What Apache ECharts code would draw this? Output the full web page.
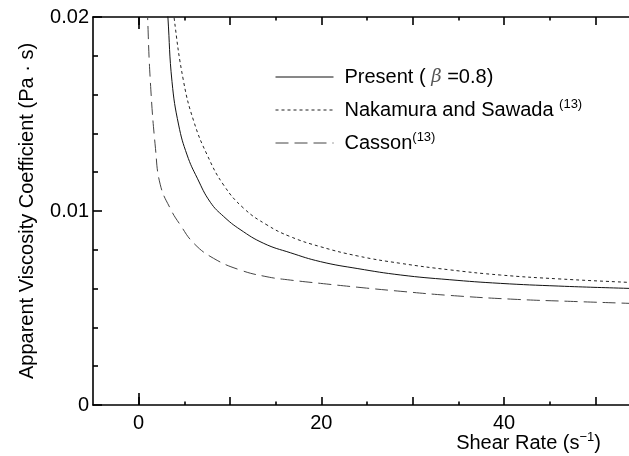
<!DOCTYPE html>
<html>
<head>
<meta charset="utf-8">
<script src="https://cdn.jsdelivr.net/npm/echarts@6/dist/echarts.min.js"></script>
<style>html,body{margin:0;padding:0;background:#fff}#c{width:629px;height:456px}</style>
</head>
<body>
<div id="c"></div>
<script>
// Shear rate (s^-1) and apparent viscosity (Pa·s)
var presentX = [3.0, 3.2, 3.65, 4.38, 5.3, 6.42, 7.85, 9.3, 11.1, 13.7, 16.6, 19.9, 24, 28.7, 34, 39.6, 46, 53.7, 56];
var presentY = [0.0215, 0.0200, 0.01667, 0.01443, 0.01289, 0.01169, 0.01045, 0.00972, 0.00905, 0.00833, 0.00785, 0.00739, 0.00703, 0.0067, 0.00646, 0.00627, 0.00613, 0.00601, 0.00598];
var nakamuraX = [3.7, 3.87, 4.92, 6.05, 7.5, 9.3, 11.5, 14.05, 16.6, 19.9, 24, 28.7, 34, 39.6, 46, 53.7, 56];
var nakamuraY = [0.0212, 0.0200, 0.01667, 0.0146, 0.01289, 0.01134, 0.01014, 0.00928, 0.00868, 0.00816, 0.00768, 0.0073, 0.00697, 0.0067, 0.0065, 0.00632, 0.00628];
var cassonX = [0.9, 0.98, 1.28, 1.84, 2.37, 3.47, 4.56, 6.05, 8.2, 11.1, 14.05, 16.6, 19.9, 24, 28.7, 34, 41.1, 48, 53.7, 56];
var cassonY = [0.0215, 0.0200, 0.01667, 0.01323, 0.01135, 0.01012, 0.00928, 0.00833, 0.00756, 0.00696, 0.00661, 0.00644, 0.00627, 0.00607, 0.00586, 0.00565, 0.00545, 0.00533, 0.00524, 0.0052];
var xMajorTicks = [0, 10, 20, 30, 40, 50];
var xMinorTicks = [5, 15, 25, 35, 45];
var xLabels = [0, 20, 40];
var legendNames = ['Present', 'Nakamura', 'Casson'];
var xAxisTitle = 'Shear Rate (s{sup|−1})';
var yAxisTitle = 'Apparent Viscosity Coefficient (Pa · s)';

function pairs(xs, ys) { return xs.map(function (x, i) { return [x, ys[i]]; }); }

var chart = echarts.init(document.getElementById('c'), null, {renderer: 'canvas'});
var FONT = 'Liberation Sans, Arial, sans-serif';
var FS = 20;
var axisCommon = {
  type: 'value', min: -5, max: 55, gridIndex: 0,
  splitLine: {show: false}
};
function xAx(pos, ticks, len, showLine, extra) {
  var a = Object.assign({}, axisCommon, {
    position: pos, offset: 0,
    axisLine: {show: showLine, onZero: false, lineStyle: {color: '#000', width: 1.6}},
    axisTick: {show: true, inside: true, length: len, customValues: ticks, lineStyle: {color: '#000', width: 1.6}},
    axisLabel: {show: false}
  });
  return Object.assign(a, extra || {});
}
var option = {
  animation: false,
  backgroundColor: '#fff',
  title: {
    text: xAxisTitle, right: 28, top: 431, padding: 0,
    textStyle: {fontFamily: FONT, fontSize: FS, fontWeight: 'normal', color: '#000', lineHeight: 24,
      rich: {sup: {fontFamily: FONT, fontSize: 13, color: '#000', verticalAlign: 'top', lineHeight: 14, padding: [0, 0, 10, 0]}}}
  },
  grid: {left: 93, top: 17, bottom: 51, right: -12, containLabel: false, outerBoundsMode: 'none'},
  legend: {
    orient: 'vertical', left: 270, top: 60,
    itemWidth: 58, itemHeight: 12, itemGap: 9,
    data: legendNames,
    itemStyle: {color: 'rgba(0,0,0,0)', borderWidth: 0, opacity: 0},
    lineStyle: {width: 1},
    textStyle: {
      fontFamily: FONT, fontSize: FS, color: '#000', lineHeight: 24, padding: [0, 0, 0, 6],
      rich: {
        b: {fontFamily: 'DejaVu Serif, serif', fontStyle: 'italic', fontSize: 18, color: '#555', lineHeight: 24},
        sup: {fontFamily: FONT, fontSize: 13, color: '#000', verticalAlign: 'top', lineHeight: 14, padding: [0, 0, 10, 0]}
      }
    },
    formatter: function (n) {
      if (n === 'Present') return 'Present ( {b|β} =0.8)';
      if (n === 'Nakamura') return 'Nakamura and Sawada {sup|(13)}';
      return 'Casson{sup|(13)}';
    }
  },
  xAxis: [
    xAx('bottom', xMajorTicks, 8, true, {
      axisLabel: {show: true, customValues: xLabels, fontFamily: FONT, fontSize: FS, color: '#000', margin: 8}
    }),
    xAx('bottom', xMinorTicks, 3.5, false),
    xAx('bottom', [0], 12, false),
    xAx('top', xMajorTicks, 8, true),
    xAx('top', xMinorTicks, 3.5, false),
    xAx('top', [0], 12, false)
  ],
  yAxis: [{
    type: 'value', min: 0, max: 0.02, interval: 0.01,
    position: 'left',
    axisLine: {show: true, onZero: false, lineStyle: {color: '#000', width: 1.6}},
    axisTick: {show: true, inside: true, length: 9, lineStyle: {color: '#000', width: 1.6}},
    minorTick: {show: true, splitNumber: 5, length: 5, lineStyle: {color: '#000', width: 1.6}},
    splitLine: {show: false},
    axisLabel: {fontFamily: FONT, fontSize: FS, color: '#000', margin: 4,
      formatter: function (v) { return v === 0 ? '0' : v.toFixed(2); }},
    name: yAxisTitle, nameLocation: 'middle', nameGap: 56,
    nameTextStyle: {fontFamily: FONT, fontSize: FS, color: '#000'}
  }],
  series: [
    {name: 'Present', type: 'line', data: pairs(presentX, presentY), showSymbol: false, symbol: 'none',
      smooth: 0.45, clip: true, lineStyle: {color: '#111', width: 1, type: 'solid'}, itemStyle: {color: '#111'}},
    {name: 'Nakamura', type: 'line', data: pairs(nakamuraX, nakamuraY), showSymbol: false, symbol: 'none',
      smooth: 0.45, clip: true, lineStyle: {color: '#222', width: 1, type: [3, 3]}, itemStyle: {color: '#222'}},
    {name: 'Casson', type: 'line', data: pairs(cassonX, cassonY), showSymbol: false, symbol: 'none',
      smooth: 0.45, clip: true, lineStyle: {color: '#444', width: 1, type: [13, 6]}, itemStyle: {color: '#444'}}
  ]
};
chart.setOption(option);
</script>
</body>
</html>
